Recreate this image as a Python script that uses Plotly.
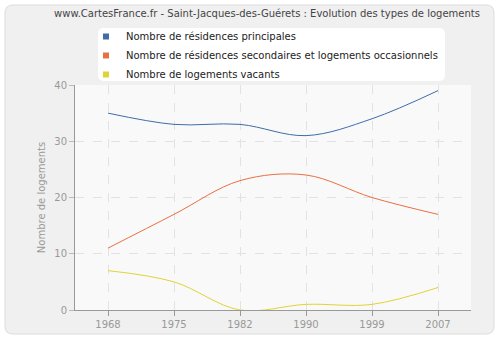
import plotly.graph_objects as go

years = ["1968", "1975", "1982", "1990", "1999", "2007"]
principales = [35, 33, 33, 31, 34, 39]
secondaires = [11, 17, 23, 24, 20, 17]
vacants = [7, 5, 0, 1, 1, 4]

names = ["Nombre de résidences principales",
         "Nombre de résidences secondaires et logements occasionnels",
         "Nombre de logements vacants"]
colors = ["#3e6da7", "#e8703f", "#e0d434"]
series = [principales, secondaires, vacants]

W, H = 500, 340
L, R, T, B = 75, 29, 85, 30
pw, ph = W - L - R, H - T - B

def px2paper(x, y):
    return (x - L) / pw, (H - B - y) / ph

fig = go.Figure()
xs = list(range(len(years)))
for name, col, vals in zip(names, colors, series):
    fig.add_trace(go.Scatter(x=xs, y=vals, mode="lines", line=dict(color=col, width=1, shape="spline", smoothing=1.0),
                             showlegend=False, hoverinfo="skip"))
for name, col in zip(names, colors):
    fig.add_trace(go.Scatter(x=[None], y=[None], mode="markers", name=name,
                             marker=dict(symbol="square", size=6, color=col)))

def P(x, y):
    a, b = px2paper(x, y)
    return f"{a:.5f},{b:.5f}"

def rounded(x0, y0, x1, y1, r):
    return (f"M {P(x0+r,y0)} L {P(x1-r,y0)} Q {P(x1,y0)} {P(x1,y0+r)} L {P(x1,y1-r)} Q {P(x1,y1)} {P(x1-r,y1)} "
            f"L {P(x0+r,y1)} Q {P(x0,y1)} {P(x0,y1-r)} L {P(x0,y0+r)} Q {P(x0,y0)} {P(x0+r,y0)} Z")

fig.add_shape(type="path", path=rounded(5, 5, 494, 334, 8), xref="paper", yref="paper", layer="below",
              fillcolor="#f0f0f0", line=dict(color="#dcdcdc", width=1))
fig.add_shape(type="path", path=rounded(98, 28, 445, 81, 6), xref="paper", yref="paper", layer="below",
              fillcolor="#ffffff", line=dict(width=0))
fig.add_shape(type="rect", x0=0, y0=0, x1=1, y1=1, xref="paper", yref="paper", layer="below",
              fillcolor="#f9f9f9", line=dict(width=0))

fx, fy = px2paper(86, 22)
fig.update_layout(
    width=W, height=H, margin=dict(l=L, r=R, t=T, b=B, autoexpand=False),
    paper_bgcolor="#ffffff", plot_bgcolor="#f9f9f9",
    font=dict(family="DejaVu Sans", size=10, color="#999999"),
    title=dict(text="www.CartesFrance.fr - Saint-Jacques-des-Guérets : Evolution des types de logements",
               x=267 / W, xanchor="center", y=1 - 13 / H, yanchor="middle",
               font=dict(size=10, color="#444444")),
    legend=dict(x=fx, y=fy, xanchor="left", yanchor="top", bgcolor="rgba(0,0,0,0)",
                font=dict(size=10, color="#222222"), tracegroupgap=0),
    xaxis=dict(range=[-0.5, 5.5], tickvals=xs, ticktext=years, showline=True, linecolor="#999999",
               ticks="outside", ticklen=5, tickcolor="#999999", showgrid=True, gridcolor="#e2e2e2",
               griddash="dash", zeroline=False, fixedrange=True, tickfont=dict(size=10, color="#999999")),
    yaxis=dict(range=[0, 40], tickvals=[0, 10, 20, 30, 40], showline=True, linecolor="#999999",
               ticks="outside", ticklen=5, tickcolor="#bbbbbb", showgrid=True, gridcolor="#e2e2e2",
               griddash="dash", zeroline=False, tickfont=dict(size=10, color="#999999"),
               title=dict(text="Nombre de logements", standoff=6, font=dict(size=10, color="#999999"))),
)
fig.write_html("out.html")
